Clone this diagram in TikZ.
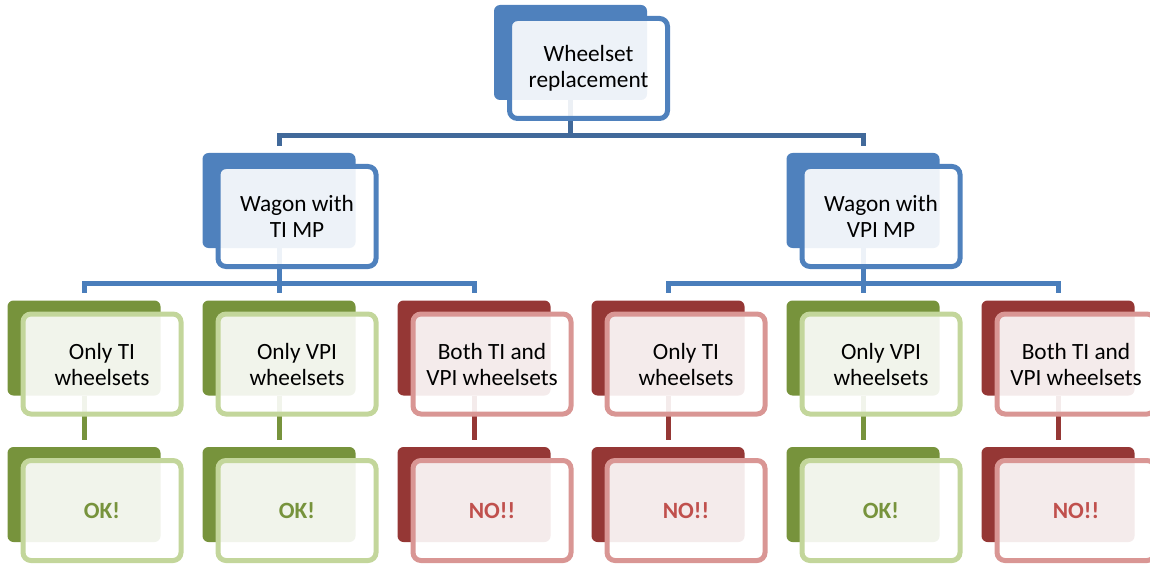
\documentclass[tikz,border=0pt]{standalone}
\usepackage{fontspec}
\setmainfont{Carlito}
\definecolor{bdark}{HTML}{4F81BD}
\definecolor{bline}{HTML}{41699A}
\definecolor{bline2}{HTML}{4A7EBB}
\definecolor{gdark}{HTML}{77933C}
\definecolor{glight}{HTML}{C3D69B}
\definecolor{rdark}{HTML}{953735}
\definecolor{rlight}{HTML}{D99694}
\definecolor{rtext}{HTML}{C0504D}
\begin{document}
\begin{tikzpicture}[x=1pt,y=-1pt,
  back/.style={rectangle,rounded corners=6pt,minimum width=153pt,minimum height=95pt,inner sep=0pt},
  backblue/.style={back,fill=bdark},
  backgreen/.style={back,fill=gdark},
  backred/.style={back,fill=rdark},
  front/.style={rectangle,rounded corners=8pt,minimum width=158pt,minimum height=100pt,inner sep=0pt,
    line width=5pt,fill=white,fill opacity=0.9,text opacity=1,align=center,
    font=\fontsize{23.3}{26}\selectfont,text=black},
  frontblue/.style={front,draw=bdark},
  frontgreen/.style={front,draw=glight},
  frontred/.style={front,draw=rlight},
  conn/.style={line width=5pt,shorten >=7pt},
  ok/.style={font=\fontsize{23.3}{26}\selectfont\bfseries,text=gdark},
  no/.style={font=\fontsize{23.3}{26}\selectfont\bfseries,text=rtext},
]
\useasboundingbox (0,0) rectangle (1150,564);
% back boxes
\node[backblue] (b1) at (570.5,52.5) {};
\node[backblue] (b2a) at (279,200.5) {};
\node[backblue] (b2b) at (863,200.5) {};
\node[backgreen] (b3a) at (84,348) {};
\node[backgreen] (b3b) at (279,348) {};
\node[backred] (b3c) at (474,348) {};
\node[backred] (b3d) at (668,348) {};
\node[backgreen] (b3e) at (863,348) {};
\node[backred] (b3f) at (1058,348) {};
\node[backgreen] (b4a) at (84,494.5) {};
\node[backgreen] (b4b) at (279,494.5) {};
\node[backred] (b4c) at (474,494.5) {};
\node[backred] (b4d) at (668,494.5) {};
\node[backgreen] (b4e) at (863,494.5) {};
\node[backred] (b4f) at (1058,494.5) {};
% connectors
\draw[conn,bline] (b1.south) -- ++(0,35.5) -| (b2a.north);
\draw[conn,bline] (b1.south) -- ++(0,35.5) -| (b2b.north);
\foreach \c in {b3a,b3b,b3c}{\draw[conn,bline2] (b2a.south) -- ++(0,35) -| (\c.north);}
\foreach \c in {b3d,b3e,b3f}{\draw[conn,bline2] (b2b.south) -- ++(0,35) -| (\c.north);}
\draw[conn,gdark] (b3a.south) -- (b4a.north);
\draw[conn,gdark] (b3b.south) -- (b4b.north);
\draw[conn,rdark] (b3c.south) -- (b4c.north);
\draw[conn,rdark] (b3d.south) -- (b4d.north);
\draw[conn,gdark] (b3e.south) -- (b4e.north);
\draw[conn,rdark] (b3f.south) -- (b4f.north);
% front boxes
\node[frontblue] (f1) at (588.5,68.5) {Wheelset\\replacement};
\node[frontblue] (f2a) at (297,216.5) {Wagon with\\TI MP};
\node[frontblue] (f2b) at (881,216.5) {Wagon with\\VPI MP};
\node[frontgreen] (f3a) at (102,364) {Only TI\\wheelsets};
\node[frontgreen] (f3b) at (297,364) {Only VPI\\wheelsets};
\node[frontred] (f3c) at (492,364) {Both TI and\\VPI wheelsets};
\node[frontred] (f3d) at (686,364) {Only TI\\wheelsets};
\node[frontgreen] (f3e) at (881,364) {Only VPI\\wheelsets};
\node[frontred] (f3f) at (1076,364) {Both TI and\\VPI wheelsets};
\node[frontgreen,ok] (f4a) at (102,510.5) {OK!};
\node[frontgreen,ok] (f4b) at (297,510.5) {OK!};
\node[frontred,no] (f4c) at (492,510.5) {NO!!};
\node[frontred,no] (f4d) at (686,510.5) {NO!!};
\node[frontgreen,ok] (f4e) at (881,510.5) {OK!};
\node[frontred,no] (f4f) at (1076,510.5) {NO!!};
\end{tikzpicture}
\end{document}
